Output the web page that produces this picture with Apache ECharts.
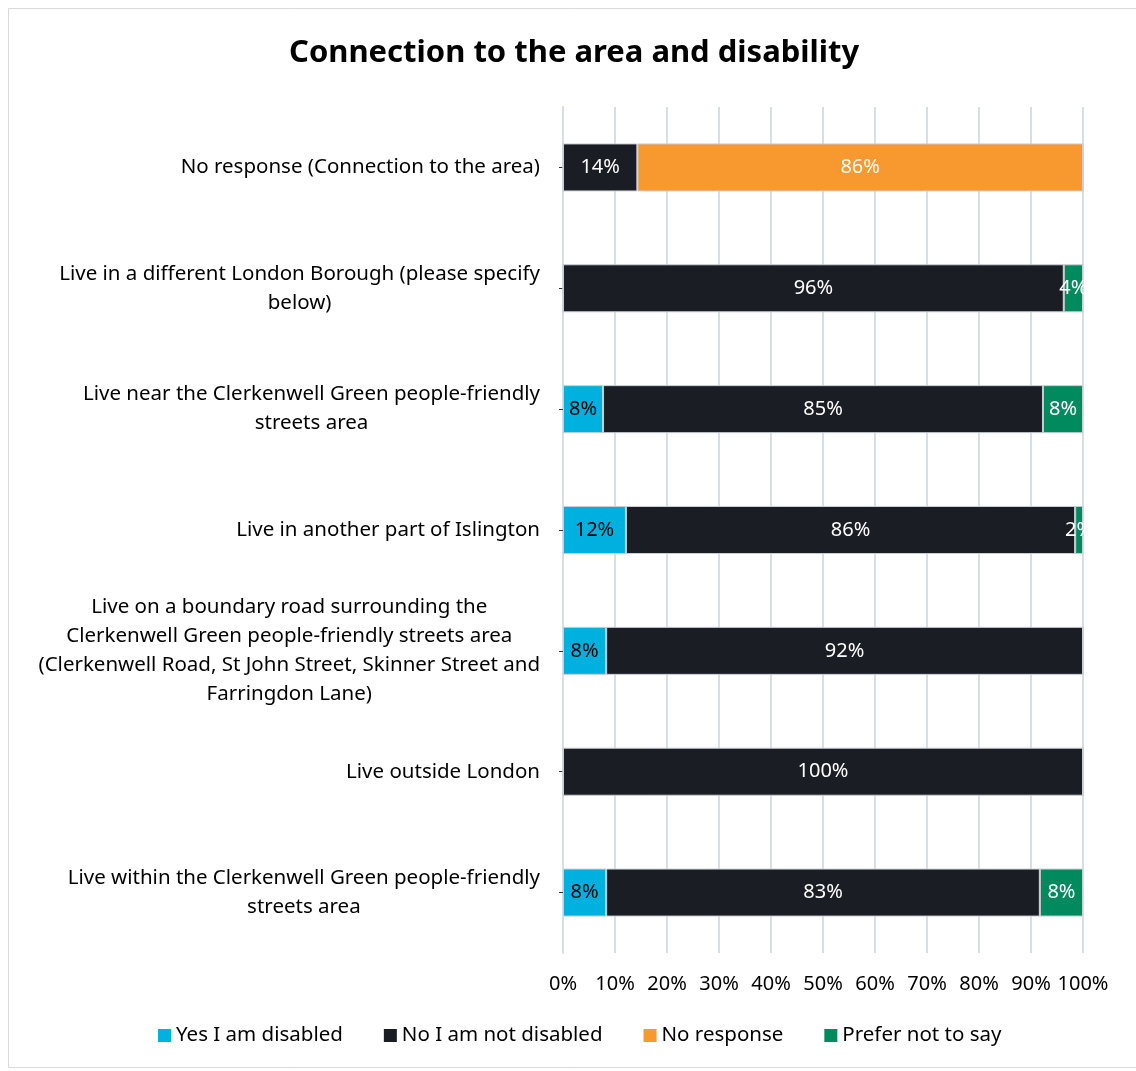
<!DOCTYPE html>
<html>
<head>
<meta charset="utf-8">
<script src="https://cdn.jsdelivr.net/npm/echarts@6/dist/echarts.min.js"></script>
<style>
  html, body { margin: 0; padding: 0; background: #fff; }
  #chart-container { width: 1136px; height: 1071px; }
</style>
</head>
<body>
<div id="chart-container"></div>
<script>
// categories, top to bottom
var categories = [
    'No response (Connection to the area)',
    'Live in a different London Borough (please specify\nbelow)',
    'Live near the Clerkenwell Green people-friendly\nstreets area',
    'Live in another part of Islington',
    'Live on a boundary road surrounding the\nClerkenwell Green people-friendly streets area\n(Clerkenwell Road, St John Street, Skinner Street and\nFarringdon Lane)',
    'Live outside London',
    'Live within the Clerkenwell Green people-friendly\nstreets area'
];
// share of respondents (%)
var yesDisabled   = [0,    0,    7.7,  12.1, 8.3,  0,   8.3];
var notDisabled   = [14.3, 96.3, 84.6, 86.4, 91.7, 100, 83.4];
var noResponse    = [85.7, 0,    0,    0,    0,    0,   0];
var preferNotSay  = [0,    3.7,  7.7,  1.5,  0,    0,   8.3];
var xTicks = [0, 10, 20, 30, 40, 50, 60, 70, 80, 90, 100];

var FONT = '"Noto Sans", sans-serif';

function makeSeries(name, data, color, labelColor) {
    return {
        name: name,
        type: 'bar',
        stack: 'total',
        barWidth: 48,
        data: data,
        itemStyle: { color: color, borderColor: '#c9ced6', borderWidth: 1 },
        label: {
            show: true,
            position: 'inside',
            color: labelColor,
            fontFamily: FONT,
            fontSize: 20,
            formatter: function (p) {
                return p.value > 0 ? Math.round(p.value) + '%' : '';
            }
        },
        emphasis: { disabled: true }
    };
}

var myChart = echarts.init(document.getElementById('chart-container'));
myChart.setOption({
    animation: false,
    backgroundColor: '#ffffff',
    title: {
        text: 'Connection to the area and disability',
        left: 284,
        top: 33,
        textStyle: { fontFamily: FONT, fontSize: 31, fontWeight: 'bold', color: '#000' }
    },
    graphic: [{
        type: 'rect',
        shape: { x: 8.5, y: 8.5, width: 1150, height: 1059 },
        style: { fill: 'none', stroke: '#d9d9d9', lineWidth: 1 },
        silent: true
    }],
    legend: {
        bottom: 20,
        left: 153,
        itemWidth: 13,
        itemHeight: 13,
        itemGap: 41,
        icon: 'rect',
        itemStyle: { borderWidth: 0 },
        textStyle: { fontFamily: FONT, fontSize: 20.5, color: '#000' },
        data: ['Yes I am disabled', 'No I am not disabled', 'No response', 'Prefer not to say']
    },
    grid: { left: 563, right: 53, top: 107, bottom: 118, containLabel: false },
    xAxis: {
        type: 'value',
        min: 0,
        max: 100,
        interval: 10,
        axisLine: { show: false },
        axisTick: { show: false },
        splitLine: { show: true, lineStyle: { color: '#d9dde6', width: 2 } },
        axisLabel: {
            margin: 21,
            fontFamily: FONT,
            fontSize: 20,
            color: '#000',
            formatter: function (v) { return xTicks.indexOf(v) >= 0 ? v + '%' : ''; }
        }
    },
    yAxis: {
        type: 'category',
        inverse: true,
        data: categories,
        axisLine: { show: true, lineStyle: { color: '#d9dde6', width: 2 } },
        axisTick: { show: true, alignWithLabel: true, length: 4, lineStyle: { color: '#333' } },
        axisLabel: {
            margin: 23,
            align: 'right',
            formatter: function (v) {
                return v.split('\n').map(function (s) { return '{c|' + s + '}'; }).join('\n');
            },
            rich: {
                c: { align: 'center', fontFamily: FONT, fontSize: 20.5, color: '#000', lineHeight: 29 }
            }
        }
    },
    series: [
        makeSeries('Yes I am disabled', yesDisabled, '#00b0df', '#000'),
        makeSeries('No I am not disabled', notDisabled, '#1a1d24', '#fff'),
        makeSeries('No response', noResponse, '#f7992e', '#fff'),
        makeSeries('Prefer not to say', preferNotSay, '#008a5e', '#fff')
    ]
});
</script>
</body>
</html>
